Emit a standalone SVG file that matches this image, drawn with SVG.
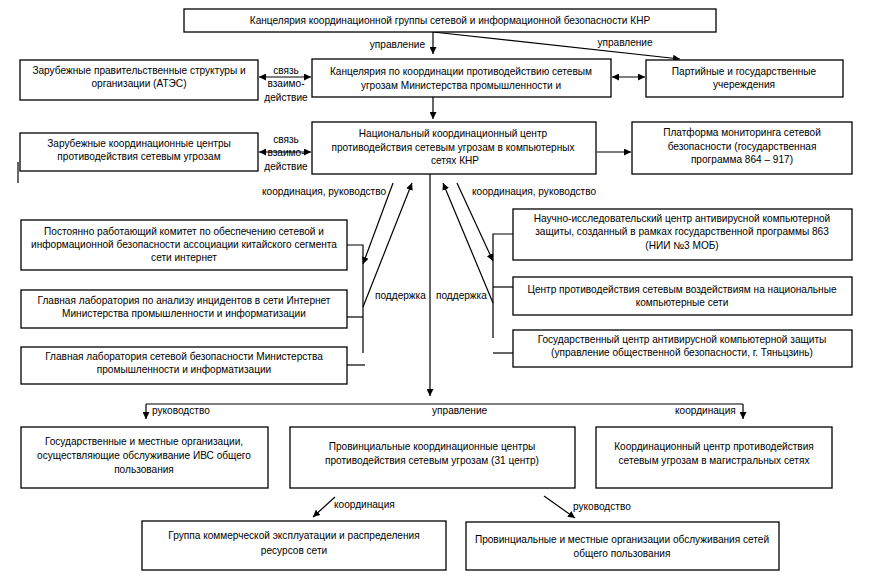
<svg xmlns="http://www.w3.org/2000/svg" width="878" height="584" viewBox="0 0 878 584">
<defs>
<marker id="ah" viewBox="0 0 10 10" refX="10" refY="5" markerWidth="7" markerHeight="7" orient="auto-start-reverse" markerUnits="userSpaceOnUse">
<path d="M0,0 L10,5 L0,10 z" fill="#000"/>
</marker>
<style>
rect{fill:#fff;stroke:#000;stroke-width:1.3}
text{font-family:"Liberation Sans",Arial,sans-serif;font-size:10.1px;fill:#000;text-anchor:middle}
.l{text-anchor:start}
.r{text-anchor:end}
#connectors line,#connectors polyline{stroke:#000;stroke-width:1.2;fill:none}
.a{marker-end:url(#ah)}
.b{marker-start:url(#ah);marker-end:url(#ah)}
</style>
</defs>
<rect x="0" y="0" width="878" height="584" style="fill:#fff;stroke:none"/>

<g id="connectors">
<line class="a" x1="433" y1="32" x2="433" y2="54"/>
<line class="a" x1="433" y1="32" x2="680" y2="59"/>
<line class="b" x1="259" y1="77" x2="311" y2="77"/>
<line class="b" x1="612" y1="77" x2="645" y2="77"/>
<line class="a" x1="433" y1="97" x2="433" y2="119"/>
<line class="b" x1="259" y1="152" x2="311" y2="152"/>
<line class="a" x1="597" y1="152" x2="631" y2="152"/>
<line x1="18" y1="162" x2="18" y2="183"/>
<line class="a" x1="430" y1="174" x2="430" y2="396"/>
<line class="a" x1="146" y1="404" x2="146" y2="419"/>
<line x1="146" y1="404" x2="743" y2="404"/>
<line class="a" x1="743" y1="404" x2="743" y2="419"/>
<polyline points="347,245 363,245 363,353"/>
<line x1="347" y1="317" x2="363" y2="317"/>
<line x1="347" y1="365" x2="365" y2="365"/>
<line class="a" x1="393" y1="183" x2="363" y2="264"/>
<line class="a" x1="363" y1="307" x2="412" y2="183"/>
<polyline points="513,234 493,234 493,338"/>
<line x1="493" y1="287" x2="513" y2="287"/>
<line x1="493" y1="353" x2="513" y2="353"/>
<line class="a" x1="457" y1="183" x2="493" y2="261"/>
<line class="a" x1="493" y1="303" x2="443" y2="183"/>
<line class="a" x1="335" y1="497" x2="313" y2="517"/>
<line class="a" x1="544" y1="496" x2="575" y2="518"/>
</g>

<g id="labels">
<text class="r" x="425" y="48">управление</text>
<text x="625" y="46">управление</text>
<text x="286" y="74">связь</text>
<text x="286" y="87">взаимо-</text>
<text x="286" y="101">действие</text>
<text x="286" y="143">связь</text>
<text x="286" y="156">взаимо-</text>
<text x="286" y="170">действие</text>
<text class="l" x="262" y="195">координация, руководство</text>
<text class="l" x="472" y="195">координация, руководство</text>
<text class="l" x="375" y="299">поддержка</text>
<text class="l" x="436" y="299">поддержка</text>
<text class="l" x="152" y="414">руководство</text>
<text class="l" x="432" y="414">управление</text>
<text class="l" x="675" y="414">координация</text>
<text class="l" x="334" y="508">координация</text>
<text class="l" x="573" y="510">руководство</text>
</g>

<g id="n1"><rect x="184" y="9" width="532" height="23"/><text x="450" y="24">Канцелярия координационной группы сетевой и информационной безопасности КНР</text></g>
<g id="n2"><rect x="312" y="59" width="299" height="38"/><text x="461" y="75">Канцелярия по координации противодействию сетевым</text><text x="461" y="89">угрозам Министерства промышленности и</text></g>
<g id="n3"><rect x="20" y="60" width="238" height="40"/><text x="139" y="74">Зарубежные правительственные структуры  и</text><text x="139" y="87">организации (АТЭС)</text></g>
<g id="n4"><rect x="646" y="60" width="197" height="37"/><text x="744" y="75">Партийные и государственные</text><text x="744" y="88">учереждения</text></g>
<g id="n5"><rect x="312" y="122" width="284" height="52"/><text x="453" y="137">Национальный координационный центр</text><text x="453" y="151">противодействия сетевым угрозам в компьютерных</text><text x="455" y="164">сетях КНР</text></g>
<g id="n6"><rect x="20" y="133" width="238" height="38"/><text x="139" y="147">Зарубежные координационные центры</text><text x="139" y="160">противодействия сетевым угрозам</text></g>
<g id="n7"><rect x="632" y="122" width="220" height="52"/><text x="742" y="136">Платформа мониторинга сетевой</text><text x="742" y="150">безопасности  (государственная</text><text x="742" y="163">программа 864 – 917)</text></g>
<g id="n8"><rect x="21" y="220" width="326" height="50"/><text x="184" y="235">Постоянно работающий комитет  по обеспечению сетевой и</text><text x="184" y="248">информационной безопасности ассоциации китайского сегмента</text><text x="184" y="261">сети интернет</text></g>
<g id="n9"><rect x="21" y="290" width="326" height="38"/><text x="184" y="304">Главная лаборатория по анализу инцидентов в сети Интернет</text><text x="184" y="317">Министерства промышленности и информатизации</text></g>
<g id="n10"><rect x="21" y="347" width="326" height="37"/><text x="184" y="360">Главная лаборатория сетевой безопасности Министерства</text><text x="184" y="373">промышленности и информатизации</text></g>
<g id="n11"><rect x="513" y="209" width="339" height="51"/><text x="682" y="222">Научно-исследовательский центр антивирусной компьютерной</text><text x="682" y="235">защиты, созданный в рамках государственной программы 863</text><text x="682" y="249">(НИИ №3 МОБ)</text></g>
<g id="n12"><rect x="513" y="277" width="339" height="38"/><text x="682" y="293">Центр противодействия сетевым воздействиям на национальные</text><text x="682" y="306">компьютерные сети</text></g>
<g id="n13"><rect x="513" y="330" width="339" height="37"/><text x="682" y="343">Государственный центр антивирусной компьютерной защиты</text><text x="682" y="356">(управление общественной безопасности, г. Тяньцзинь)</text></g>
<g id="n14"><rect x="21" y="427" width="247" height="61"/><text x="144" y="445">Государственные и местные организации,</text><text x="144" y="459">осуществляющие обслуживание ИВС общего</text><text x="144" y="473">пользования</text></g>
<g id="n15"><rect x="290" y="427" width="285" height="61"/><text x="432" y="450">Провинциальные координационные центры</text><text x="432" y="464">противодействия сетевым угрозам (31 центр)</text></g>
<g id="n16"><rect x="596" y="427" width="236" height="61"/><text x="714" y="450">Координационный центр противодействия</text><text x="714" y="464">сетевым угрозам в магистральных сетях</text></g>
<g id="n17"><rect x="142" y="521" width="304" height="49"/><text x="294" y="539">Группа коммерческой эксплуатации и распределения</text><text x="294" y="554">ресурсов сети</text></g>
<g id="n18"><rect x="466" y="522" width="313" height="48"/><text x="622" y="543">Провинциальные и местные организации обслуживания сетей</text><text x="622" y="557">общего пользования</text></g>
</svg>
